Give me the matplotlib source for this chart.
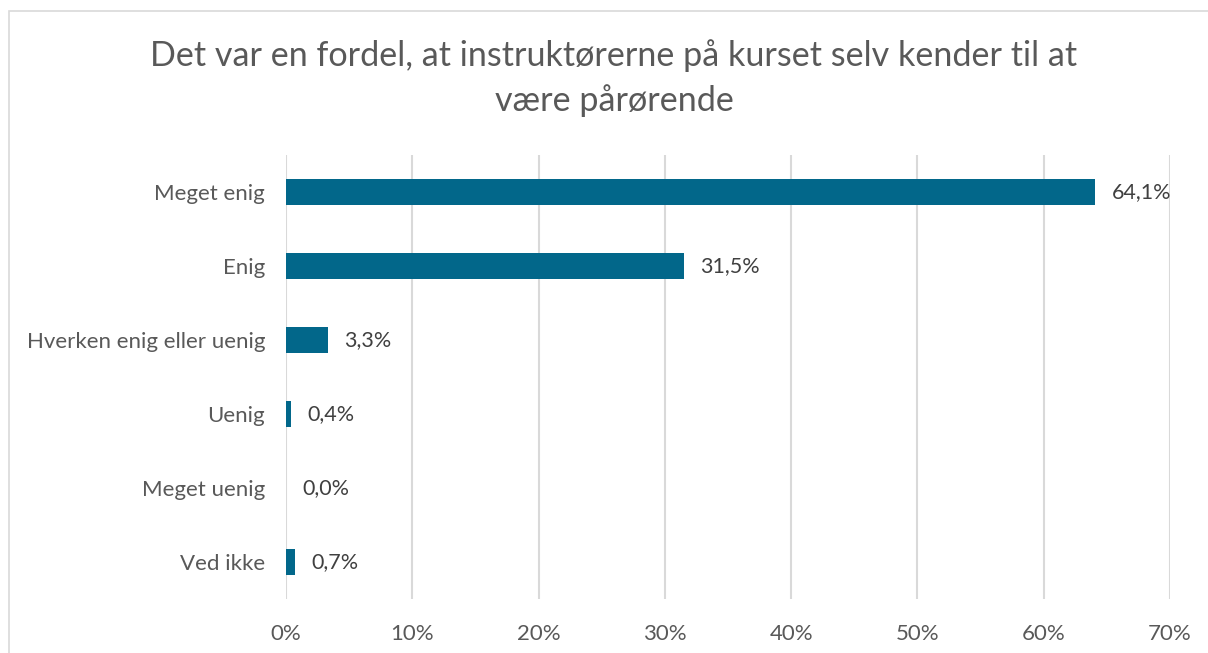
import matplotlib.pyplot as plt
from matplotlib.patches import Rectangle

plt.rcParams['font.family'] = ['Lato', 'DejaVu Sans']

categories = ["Meget enig", "Enig", "Hverken enig eller uenig", "Uenig", "Meget uenig", "Ved ikke"]
values = [0.641, 0.315, 0.033, 0.004, 0.000, 0.007]
labels = ["64,1%", "31,5%", "3,3%", "0,4%", "0,0%", "0,7%"]
xticks = [0, 0.1, 0.2, 0.3, 0.4, 0.5, 0.6, 0.7]
xticklabels = ["0%", "10%", "20%", "30%", "40%", "50%", "60%", "70%"]
title = "Det var en fordel, at instruktørerne på kurset selv kender til at\nvære pårørende"

W, H = 1208, 653
fig = plt.figure(figsize=(W / 100, H / 100), dpi=100)
fig.patch.set_facecolor("white")

# chart frame (cropped at right/bottom)
fig.patches.append(Rectangle((9 / W, -0.1), 1.2, 1 - 11 / H + 0.1, transform=fig.transFigure,
                             fill=False, edgecolor="#d9d9d9", linewidth=1.2))

ax = fig.add_axes([286 / W, 1 - 599 / H, (1170 - 286) / W, (599 - 155) / H])
ypos = list(range(len(categories)))
ax.barh(ypos, values, height=0.35, color="#02678a", zorder=3)
for y, v, lab in zip(ypos, values, labels):
    ax.text(v + 0.013, y, lab, va="center", ha="left", fontsize=15.5, color="#404040")

ax.set_xlim(0, 0.7)
ax.set_ylim(len(categories) - 0.5, -0.5)
ax.set_yticks(ypos)
ax.set_yticklabels(categories, fontsize=16, color="#595959")
ax.set_xticks(xticks)
ax.set_xticklabels(xticklabels, fontsize=16, color="#595959")
ax.grid(axis="x", color="#d9d9d9", linewidth=1.5, zorder=0)
ax.tick_params(axis="y", length=0, pad=15)
ax.tick_params(axis="x", length=0, pad=18)
for s in ax.spines.values():
    s.set_visible(False)

fig.text(614 / W, 1 - 78 / H, title, ha="center", va="center", fontsize=24.6,
         color="#595959", linespacing=1.45)

fig.savefig("out.png", dpi=100)
